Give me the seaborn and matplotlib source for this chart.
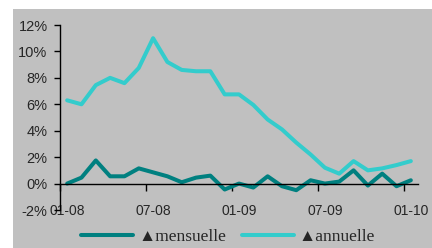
import matplotlib
matplotlib.use("Agg")
import matplotlib.pyplot as plt
from matplotlib.patches import Rectangle
import seaborn as sns
import pandas as pd

months = ["01-08", "02-08", "03-08", "04-08", "05-08", "06-08", "07-08", "08-08", "09-08",
          "10-08", "11-08", "12-08", "01-09", "02-09", "03-09", "04-09", "05-09", "06-09",
          "07-09", "08-09", "09-09", "10-09", "11-09", "12-09", "01-10"]
mensuelle = [0.0, 0.45, 1.75, 0.55, 0.55, 1.15, 0.85, 0.55, 0.1, 0.45, 0.6, -0.45, 0.0,
             -0.3, 0.55, -0.2, -0.5, 0.25, 0.0, 0.15, 1.0, -0.15, 0.75, -0.2, 0.25]
annuelle = [6.3, 6.0, 7.45, 8.0, 7.6, 8.75, 11.0, 9.2, 8.6, 8.5, 8.5, 6.75, 6.75,
            5.95, 4.85, 4.1, 3.1, 2.2, 1.2, 0.75, 1.7, 1.0, 1.15, 1.4, 1.7]
shown_labels = ["01-08", "07-08", "01-09", "07-09", "01-10"]
yticks = [-2, 0, 2, 4, 6, 8, 10, 12]

sns.set_style("white")
plt.rcParams["font.family"] = ["Liberation Sans", "DejaVu Sans"]

W, H = 432, 248
fig = plt.figure(figsize=(W / 100, H / 100), dpi=100, facecolor="white")
fig.patches.append(Rectangle((13 / W, 0), 1, 1 - 9 / H, transform=fig.transFigure,
                             facecolor="#C0C0C0", edgecolor="none", zorder=-10))
ax = fig.add_axes([60 / W, 1 - 210 / H, (418 - 60) / W, (210 - 25) / H])
ax.set_facecolor("none")

df = pd.DataFrame({"i": range(len(months)), "mois": months,
                   "mensuelle": mensuelle, "annuelle": annuelle})
sns.lineplot(data=df, x="i", y="mensuelle", ax=ax, color="#008080", lw=2.9,
             label="\u25b2mensuelle")
sns.lineplot(data=df, x="i", y="annuelle", ax=ax, color="#33CCCC", lw=2.9,
             label="\u25b2annuelle")

ax.set_xlim(-0.5, len(months) - 0.5)
ax.set_ylim(-2, 12)
ax.set_xlabel("")
ax.set_ylabel("")
ax.set_yticks(yticks)
ax.set_yticklabels([f"{v}%" for v in yticks], fontsize=10.5)
ax.tick_params(axis="y", direction="out", length=4, width=1, color="black", pad=5, left=True)

label_pos = [months.index(m) for m in shown_labels]
ax.set_xticks([p - 0.5 for p in label_pos])
ax.set_xticklabels([])
ax.set_xticks(label_pos, minor=True)
ax.set_xticklabels(shown_labels, minor=True, fontsize=10.5)
ax.tick_params(axis="x", which="major", direction="out", length=5, width=1, color="black", bottom=True)
ax.tick_params(axis="x", which="minor", length=0, pad=15)

for s in ["top", "right"]:
    ax.spines[s].set_visible(False)
ax.spines["left"].set_color("black")
ax.spines["left"].set_linewidth(1)
ax.spines["bottom"].set_position(("data", 0))
ax.spines["bottom"].set_color("black")
ax.spines["bottom"].set_linewidth(1)
ax.grid(False)

ax.legend_.remove()
h, l = ax.get_legend_handles_labels()
fig.legend(h, l, loc="center", bbox_to_anchor=(228 / W, 1 - 237 / H), ncol=2,
           frameon=False, prop={"family": ["Liberation Serif", "DejaVu Sans"], "size": 12.5},
           handlelength=3.0, handletextpad=0.3, columnspacing=0.9, borderpad=0)

fig.savefig("out.png", dpi=100)
